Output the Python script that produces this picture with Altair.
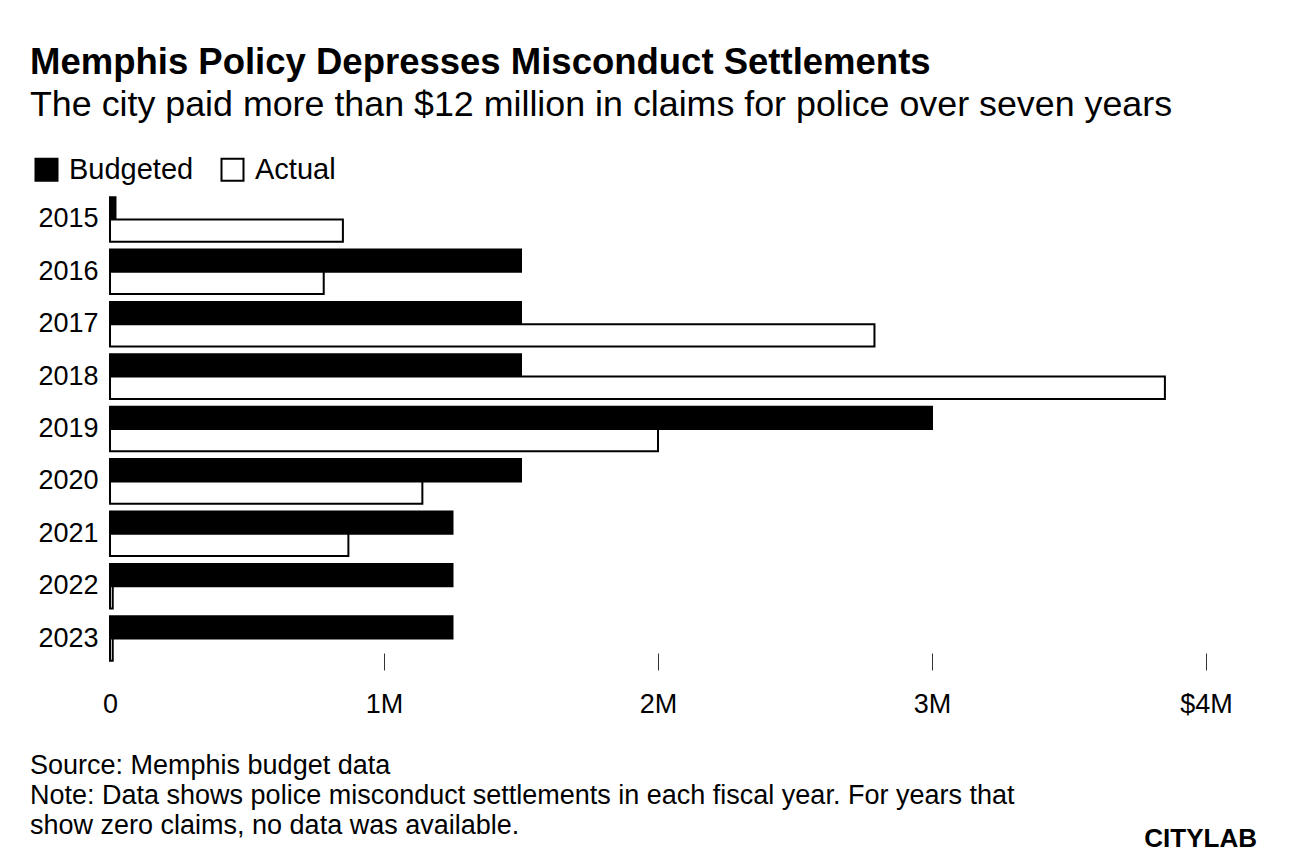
import altair as alt
import pandas as pd

years = ["2015", "2016", "2017", "2018", "2019", "2020", "2021", "2022", "2023"]
budgeted = [0.02, 1.5, 1.5, 1.5, 3.0, 1.5, 1.25, 1.25, 1.25]  # $ millions
actual = [0.85, 0.78, 2.79, 3.85, 2.0, 1.14, 0.87, 0.01, 0.01]  # $ millions
series = ["Budgeted", "Actual"]
x_ticks = [0, 1, 2, 3, 4]

footer_lines = [
    "Source: Memphis budget data",
    "Note: Data shows police misconduct settlements in each fiscal year. For years that",
    "show zero claims, no data was available.",
]

FONT = "Liberation Sans"

rows = []
for y, b, a in zip(years, budgeted, actual):
    rows.append({"year": y, "series": "Budgeted", "value": b * 1e6})
    rows.append({"year": y, "series": "Actual", "value": a * 1e6})
df = pd.DataFrame(rows)

W, H = 1096, 472

bars = alt.Chart(df).mark_bar(stroke="black", strokeWidth=2).encode(
    x=alt.X(
        "value:Q",
        scale=alt.Scale(domain=[0, 4e6], nice=False),
        axis=alt.Axis(
            values=[v * 1e6 for v in x_ticks],
            title=None,
            domain=False,
            grid=False,
            offset=-12,
            tickSize=17,
            tickColor="#333333",
            tickWidth=1,
            tickOpacity={"condition": {"test": "datum.value == 0", "value": 0}, "value": 1},
            labelPadding=21,
            labelFontSize=27,
            labelFont=FONT,
            labelColor="black",
            labelFlush=False,
            labelExpr="datum.value == 0 ? '0' : (datum.value == 4000000 ? '$4M' : (datum.value / 1000000) + 'M')",
        ),
    ),
    y=alt.Y(
        "year:N",
        sort=years,
        scale=alt.Scale(paddingInner=0.15, paddingOuter=0.08),
        axis=alt.Axis(
            title=None,
            domain=False,
            ticks=False,
            grid=False,
            labelPadding=12,
            labelFontSize=27,
            labelFont=FONT,
            labelColor="black",
        ),
    ),
    yOffset=alt.YOffset("series:N", sort=series, scale=alt.Scale(paddingInner=0, paddingOuter=0)),
    fill=alt.Fill(
        "series:N",
        sort=series,
        scale=alt.Scale(domain=series, range=["black", "white"]),
        legend=alt.Legend(
            title=None,
            orient="none",
            direction="horizontal",
            legendX=-78,
            legendY=-38,
            symbolType="square",
            symbolSize=484,
            symbolStrokeColor="black",
            symbolStrokeWidth=2,
            labelFontSize=29,
            labelFont=FONT,
            labelColor="black",
            labelOffset=8,
            columnPadding=23,
        ),
    ),
)

foot_layers = []
for i, line in enumerate(footer_lines):
    foot_layers.append(
        alt.Chart(pd.DataFrame({"t": [line]})).mark_text(
            align="left", baseline="alphabetic", fontSize=27, font=FONT, color="black"
        ).encode(text="t:N", x=alt.value(-80), y=alt.value(581 + 30 * i))
    )

logo = alt.Chart(pd.DataFrame({"t": ["CITYLAB"]})).mark_text(
    align="right", baseline="alphabetic", fontSize=26, font=FONT, fontWeight=900, color="black"
).encode(text="t:N", x=alt.value(1147), y=alt.value(654))

chart = alt.layer(bars, *foot_layers, logo).properties(
    width=W,
    height=H,
    background="white",
    autosize=alt.AutoSizeParams(type="none"),
    padding={"left": 102, "top": 185, "right": 82, "bottom": 191},
    title=alt.TitleParams(
        text="Memphis Policy Depresses Misconduct Settlements",
        subtitle="The city paid more than $12 million in claims for police over seven years",
        anchor="start",
        frame="group",
        dx=-80,
        offset=32,
        font=FONT,
        fontSize=36.5,
        fontWeight="bold",
        color="black",
        subtitleFont=FONT,
        subtitleFontSize=35.8,
        subtitleColor="black",
        subtitlePadding=7,
    ),
).configure_view(stroke=None)

chart.save("out.html", embed_options={"renderer": "svg", "actions": False})
